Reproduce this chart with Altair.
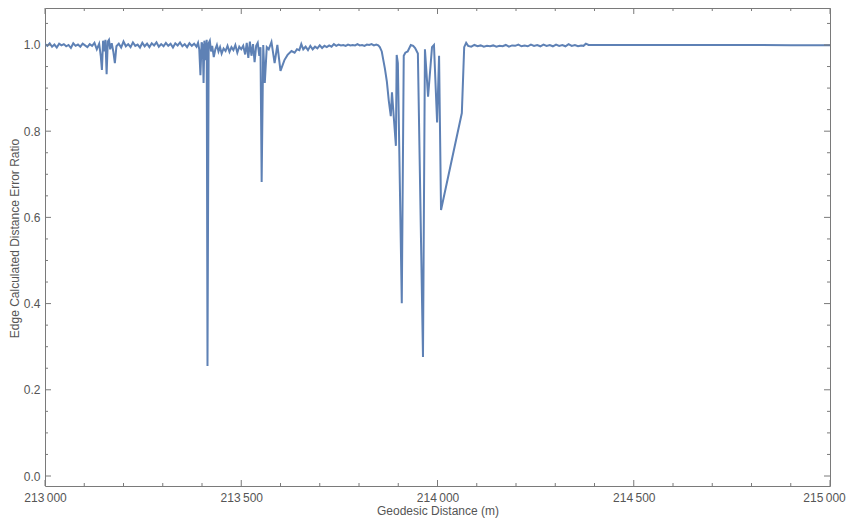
import altair as alt
import pandas as pd

# ---------------- data ----------------
dist = [
    213000, 213006, 213012, 213018, 213024, 213030, 213036, 213042, 213048, 213054,
    213060, 213066, 213072, 213078, 213084, 213090, 213096, 213102, 213108, 213114,
    213120, 213126, 213132, 213138, 213142, 213145, 213148, 213151, 213154, 213157,
    213160, 213163, 213166, 213170, 213174, 213178, 213182, 213188, 213194, 213200,
    213206, 213212, 213218, 213224, 213230, 213236, 213242, 213248, 213254, 213260,
    213266, 213272, 213278, 213284, 213290, 213296, 213302, 213308, 213314, 213320,
    213326, 213332, 213338, 213344, 213350, 213356, 213362, 213368, 213374, 213380,
    213386, 213390,
    213393, 213396, 213399, 213402, 213404, 213406, 213409, 213412, 213414, 213417,
    213420, 213423, 213426, 213430, 213434, 213438, 213442, 213446, 213450, 213455,
    213460, 213465, 213470, 213475, 213480, 213485, 213490, 213495, 213500, 213505,
    213510, 213514, 213518, 213522, 213526, 213530, 213534, 213538, 213542, 213546,
    213549, 213552, 213556, 213560, 213565, 213570, 213577, 213585, 213592, 213600,
    213610, 213618, 213628, 213636, 213642, 213648, 213653, 213658, 213664, 213670,
    213676, 213682, 213688, 213694, 213700, 213706, 213712, 213718, 213724, 213730,
    213736, 213742, 213748, 213754, 213760, 213766, 213772, 213778, 213784, 213790,
    213796, 213802, 213808, 213814, 213820, 213826, 213832, 213838, 213844, 213849,
    213853, 213858, 213862, 213866, 213871, 213876, 213881, 213884, 213894, 213896,
    213899, 213909, 213914, 213918, 213924, 213932, 213938, 213943, 213950, 213963,
    213968, 213976, 213986, 213991, 213999, 214004, 214009, 214062, 214068, 214073,
    214078,
    214086, 214094, 214102, 214110, 214118, 214126, 214134, 214142, 214150, 214158,
    214166, 214174, 214182, 214190, 214198, 214206, 214214, 214222, 214230, 214238,
    214246, 214254, 214262, 214270, 214278, 214286, 214294, 214302, 214310, 214318,
    214326, 214334, 214342, 214350, 214358, 214366, 214372, 214378,
    214385, 214500, 214700, 214900, 215000,
]

ratio = [
    1.002, 0.998, 1.004, 0.996, 1.001, 0.994, 1.003, 0.999, 1.002, 0.997,
    1.000, 0.993, 1.004, 0.998, 1.001, 0.996, 1.003, 0.999, 0.995, 1.002,
    0.998, 1.005, 0.990, 1.003, 0.975, 0.942, 1.010, 0.985, 1.012, 0.932,
    1.008, 1.012, 0.990, 1.004, 0.985, 0.958, 0.997, 1.003, 0.994, 1.008,
    0.997, 1.002, 0.995, 1.006, 0.998, 1.001, 0.994, 1.005, 0.997, 1.003,
    0.995, 1.004, 0.999, 1.006, 0.996, 1.002, 0.997, 1.005, 0.998, 1.003,
    0.994, 1.004, 0.999, 1.006, 0.997, 1.002, 0.995, 1.004, 0.998, 1.003,
    0.996, 1.005,
    0.990, 0.930, 1.006, 0.998, 0.912, 1.010, 0.965, 1.012, 0.255, 1.004,
    1.010, 0.985, 0.998, 0.972, 0.990, 1.000, 0.985, 0.995, 0.980, 0.992,
    0.986, 0.998, 0.984, 0.995, 0.988, 1.000, 0.982, 0.996, 0.990, 0.998,
    0.978, 1.005, 0.970, 1.008, 0.975, 1.002, 0.960, 0.998, 1.005, 0.975,
    0.995, 0.682, 1.000, 0.912, 0.995, 0.990, 1.007, 0.958, 1.000, 0.940,
    0.965, 0.977, 0.986, 0.982, 0.990, 0.988, 1.002, 0.990, 0.996, 0.988,
    0.998, 0.990, 0.996, 0.992, 0.999, 0.993, 0.998, 0.995, 0.999, 0.996,
    1.002, 0.998, 1.001, 0.999, 1.000, 0.998, 1.001, 0.999, 1.000, 0.999,
    1.002, 0.999, 1.000, 0.998, 1.001, 1.000, 1.002, 0.999, 1.001, 0.999,
    0.995, 0.985, 0.965, 0.945, 0.915, 0.870, 0.835, 0.890, 0.766, 0.977,
    0.958, 0.401, 0.975, 0.982, 0.985, 1.000, 0.998, 0.993, 0.980, 0.276,
    0.990, 0.880, 0.995, 1.000, 0.820, 0.975, 0.617, 0.842, 0.995, 1.005,
    0.998,
    0.996, 1.000, 0.997, 0.999, 0.996, 0.998, 0.997, 0.999, 0.996, 0.998,
    0.997, 1.000, 0.996, 0.999, 0.998, 1.001, 0.997, 0.999, 0.997, 1.001,
    0.998, 1.000, 0.997, 1.001, 0.998, 1.000, 0.997, 1.001, 0.998, 1.000,
    0.997, 1.002, 0.998, 1.000, 0.997, 0.999, 0.998, 1.003,
    1.000, 1.000, 1.000, 0.9995, 0.9995,
]

x_major = [213000, 213500, 214000, 214500, 215000]
x_minor = [213100, 213200, 213300, 213400, 213600, 213700, 213800, 213900,
           214100, 214200, 214300, 214400, 214600, 214700, 214800, 214900]
y_major = [0.0, 0.2, 0.4, 0.6, 0.8, 1.0]
y_minor = [0.05, 0.1, 0.15, 0.25, 0.3, 0.35, 0.45, 0.5, 0.55, 0.65, 0.7,
           0.75, 0.85, 0.9, 0.95, 1.05]

x_title = "Geodesic Distance (m)"
y_title = "Edge Calculated Distance Error Ratio"

# ---------------- layout / style ----------------
W, H = 785, 478
FONT = "Liberation Sans, Arial, sans-serif"
TXT = "#555555"
FRAME = "#7a7a7a"
LINE = "#5e81b5"

xs = alt.Scale(domain=[213000, 215000], nice=False, zero=False)
ys = alt.Scale(domain=[-0.0232, 1.0858], nice=False, zero=False)

df = pd.DataFrame({"x": dist, "y": ratio})

x_axis = alt.Axis(
    values=x_major, ticks=False, domain=False, grid=False,
    labelFont=FONT, labelFontSize=12, labelColor=TXT, labelPadding=6,
    labelFlush=False,
    labelOffset={"condition": {"test": "datum.value >= 215000", "value": -6}, "value": 0},
    labelExpr="substring(toString(datum.value),0,3) + '\u2009' + substring(toString(datum.value),3)",
    title=x_title, titleFont=FONT, titleFontSize=12, titleFontWeight="normal",
    titleColor=TXT, titlePadding=2,
)
y_axis = alt.Axis(
    values=y_major, format=".1f", ticks=False, domain=False, grid=False,
    labelFont=FONT, labelFontSize=12, labelColor=TXT, labelPadding=5,
    title=y_title, titleFont=FONT, titleFontSize=12, titleFontWeight="normal",
    titleColor=TXT, titlePadding=2, titleY=230,
)

line = alt.Chart(df).mark_line(color=LINE, strokeWidth=2, clip=True).encode(
    x=alt.X("x:Q", scale=xs, axis=x_axis),
    y=alt.Y("y:Q", scale=ys, axis=y_axis),
)

def xticks(vals, length):
    d = pd.DataFrame({"x": vals})
    bottom = alt.Chart(d).mark_rule(color=FRAME, strokeWidth=1).encode(
        x=alt.X("x:Q", scale=xs, axis=None),
        y=alt.value(H), y2=alt.value(H - length),
    )
    top = alt.Chart(d).mark_rule(color=FRAME, strokeWidth=1).encode(
        x=alt.X("x:Q", scale=xs, axis=None),
        y=alt.value(0), y2=alt.value(length),
    )
    return [bottom, top]

def yticks(vals, length):
    d = pd.DataFrame({"y": vals})
    left = alt.Chart(d).mark_rule(color=FRAME, strokeWidth=1).encode(
        y=alt.Y("y:Q", scale=ys, axis=None),
        x=alt.value(0), x2=alt.value(length),
    )
    right = alt.Chart(d).mark_rule(color=FRAME, strokeWidth=1).encode(
        y=alt.Y("y:Q", scale=ys, axis=None),
        x=alt.value(W), x2=alt.value(W - length),
    )
    return [left, right]

layers = [line] + xticks(x_major, 6) + xticks(x_minor, 3) + yticks(y_major, 6) + yticks(y_minor, 3)

chart = alt.layer(*layers).resolve_axis(
    x="independent", y="independent"
).properties(
    width=W, height=H,
    autosize=alt.AutoSizeParams(type="none"),
    padding={"left": 37, "top": 0, "right": 16, "bottom": 34},
).configure_view(stroke=FRAME, strokeWidth=1)

chart.save("out.html", embed_options={"renderer": "svg", "actions": False})
